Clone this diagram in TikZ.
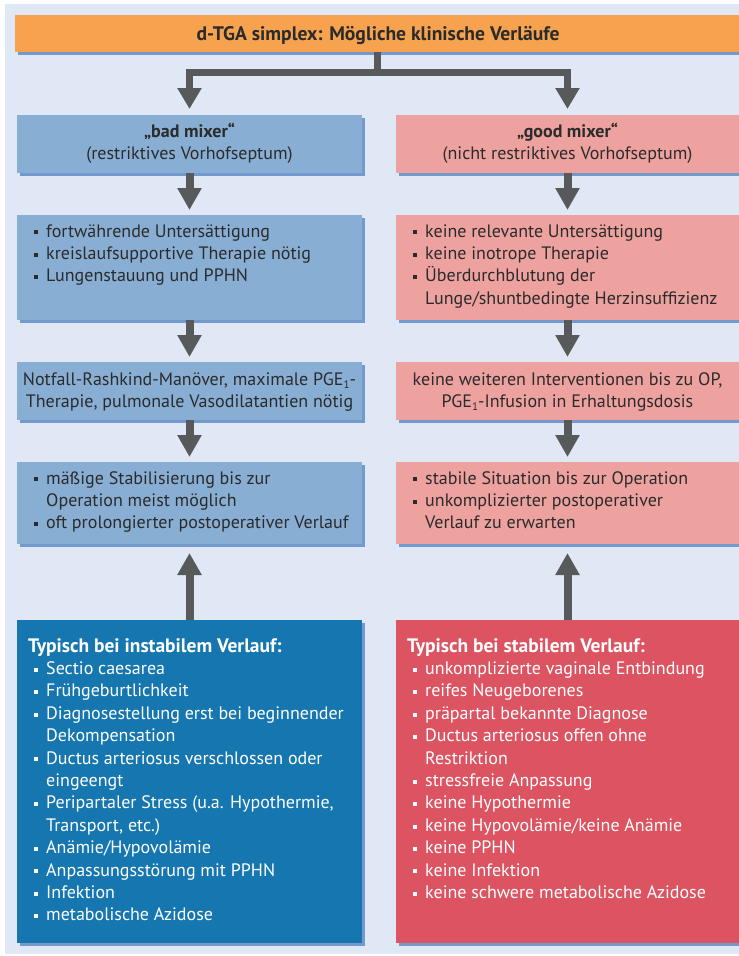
\documentclass[tikz,border=0pt]{standalone}
\usepackage{fontspec}
\setmainfont{PT Sans}
\usetikzlibrary{arrows.meta,shadows}
\definecolor{bgc}{HTML}{E0E8F5}
\definecolor{orangec}{HTML}{F7A24F}
\definecolor{lblue}{HTML}{88AED4}
\definecolor{pinkc}{HTML}{EDA2A0}
\definecolor{dblue}{HTML}{1677B0}
\definecolor{redc}{HTML}{DC5461}
\definecolor{arrgray}{HTML}{58595B}
\definecolor{txtc}{HTML}{2B2B2B}
\definecolor{shadowblue}{HTML}{4F7FC0}
\newcommand\bsq{\rule[0.14em]{4pt}{4pt}}
\newcommand\bi{\makebox[12pt][l]{\bsq}}
\newcommand\bc{\hspace*{12pt}}
\newcommand\ttl[1]{\hspace*{-6pt}{\fontsize{19.5}{22.4}\selectfont\bfseries #1}}
\newcommand\subone{\raisebox{-0.35ex}{\fontsize{11}{12}\selectfont 1}}
\begin{document}
\begin{tikzpicture}[x=1pt,y=-1pt,
  box/.style={rectangle, inner sep=0pt, outer sep=0pt, anchor=north west,
    drop shadow={shadow xshift=3pt, shadow yshift=-3pt, fill=shadowblue, opacity=0.75}},
  lbox/.style={box, fill=lblue, minimum width=345pt},
  rbox/.style={box, fill=pinkc, minimum width=343pt},
  txt/.style={inner sep=0pt, anchor=base west, text=txtc, font=\fontsize{18}{22.4}\selectfont},
  ctxt/.style={txt, anchor=base},
  wtxt/.style={txt, text=white},
  arr/.style={draw=arrgray, line width=8pt, -{Triangle[length=22pt,width=23pt]}, shorten >=5pt},
  conn/.style={draw=arrgray, line width=7pt},
  harr/.style={conn, -{Triangle[length=21pt,width=23pt]}, shorten >=6pt},
]
\useasboundingbox (0,0) rectangle (739,956);
\fill[bgc] (5,4) rectangle (739,954);

% header
\node[box, fill=orangec, minimum width=724pt, minimum height=37pt] (head) at (15,15) {};
\node[txt, anchor=base, font=\fontsize{19.6}{22.4}\selectfont\bfseries] (headt) at (378,40) {d-TGA simplex: Mögliche klinische Verläufe};

% left column boxes
\node[lbox, minimum height=58pt] (L1) at (17,115) {};
\node[lbox, minimum height=105pt] (L2) at (17,215) {};
\node[lbox, minimum height=58pt] (L3) at (17,362) {};
\node[lbox, minimum height=82pt] (L4) at (17,462) {};
\node[box, fill=dblue, minimum width=345pt, minimum height=323pt] (LB) at (17,620) {};

% right column boxes
\node[rbox, minimum height=58pt] (R1) at (396,115) {};
\node[rbox, minimum height=105pt] (R2) at (396,215) {};
\node[rbox, minimum height=58pt] (R3) at (396,362) {};
\node[rbox, minimum height=82pt] (R4) at (396,462) {};
\node[box, fill=redc, minimum width=343pt, minimum height=323pt] (RB) at (396,620) {};

% connectors
\coordinate (hj) at (377,72);
\draw[conn] (head.south) -- (hj);
\draw[harr] (hj) -| (L1.north);
\draw[harr] (hj) -| (R1.north);
\draw[arr] (L1.south) -- (L2.north);
\draw[arr] (L2.south) -- (L3.north);
\draw[arr] (L3.south) -- (L4.north);
\draw[arr, shorten >=9pt] (LB.north) -- (L4.south);
\draw[arr] (R1.south) -- (R2.north);
\draw[arr] (R2.south) -- (R3.north);
\draw[arr] (R3.south) -- (R4.north);
\draw[arr, shorten >=9pt] (RB.north) -- (R4.south);

% texts left
\node[ctxt] (L1t) at (189.5,137) {\begin{tabular}[t]{@{}c@{}}\textbf{„bad mixer“}\\(restriktives Vorhofseptum)\end{tabular}};
\node[txt] (L2t) at (34,237) {\begin{tabular}[t]{@{}l@{}}\bi fortwährende Untersättigung\\ \bi kreislaufsupportive Therapie nötig\\ \bi Lungenstauung und PPHN\end{tabular}};
\node[ctxt] (L3t) at (189.5,385) {\begin{tabular}[t]{@{}c@{}}Notfall-Rashkind-Manöver, maximale PGE\subone-\\Therapie, pulmonale Vasodilatantien nötig\end{tabular}};
\node[txt] (L4t) at (34,484) {\begin{tabular}[t]{@{}l@{}}\bi mäßige Stabilisierung bis zur\\ \bc Operation meist möglich\\ \bi oft prolongierter postoperativer Verlauf\end{tabular}};
\node[wtxt] (LBt) at (34,652) {\begin{tabular}[t]{@{}l@{}}\ttl{Typisch bei instabilem Verlauf:}\\
\bi Sectio caesarea\\
\bi Frühgeburtlichkeit\\
\bi Diagnosestellung erst bei beginnender\\
\bc Dekompensation\\
\bi Ductus arteriosus verschlossen oder\\
\bc eingeengt\\
\bi Peripartaler Stress (u.a. Hypothermie,\\
\bc Transport, etc.)\\
\bi Anämie/Hypovolämie\\
\bi Anpassungsstörung mit PPHN\\
\bi Infektion\\
\bi metabolische Azidose\end{tabular}};

% texts right
\node[ctxt] (R1t) at (567.5,137) {\begin{tabular}[t]{@{}c@{}}\textbf{„good mixer“}\\(nicht restriktives Vorhofseptum)\end{tabular}};
\node[txt] (R2t) at (413,237) {\begin{tabular}[t]{@{}l@{}}\bi keine relevante Untersättigung\\ \bi keine inotrope Therapie\\ \bi Überdurchblutung der\\ \bc Lunge/shuntbedingte Herzinsuffizienz\end{tabular}};
\node[ctxt] (R3t) at (567.5,385) {\begin{tabular}[t]{@{}c@{}}keine weiteren Interventionen bis zu OP,\\PGE\subone-Infusion in Erhaltungsdosis\end{tabular}};
\node[txt] (R4t) at (413,484) {\begin{tabular}[t]{@{}l@{}}\bi stabile Situation bis zur Operation\\ \bi unkomplizierter postoperativer\\ \bc Verlauf zu erwarten\end{tabular}};
\node[wtxt] (RBt) at (413,652) {\begin{tabular}[t]{@{}l@{}}\ttl{Typisch bei stabilem Verlauf:}\\
\bi unkomplizierte vaginale Entbindung\\
\bi reifes Neugeborenes\\
\bi präpartal bekannte Diagnose\\
\bi Ductus arteriosus offen ohne\\
\bc Restriktion\\
\bi stressfreie Anpassung\\
\bi keine Hypothermie\\
\bi keine Hypovolämie/keine Anämie\\
\bi keine PPHN\\
\bi keine Infektion\\
\bi keine schwere metabolische Azidose\end{tabular}};
\end{tikzpicture}
\end{document}
